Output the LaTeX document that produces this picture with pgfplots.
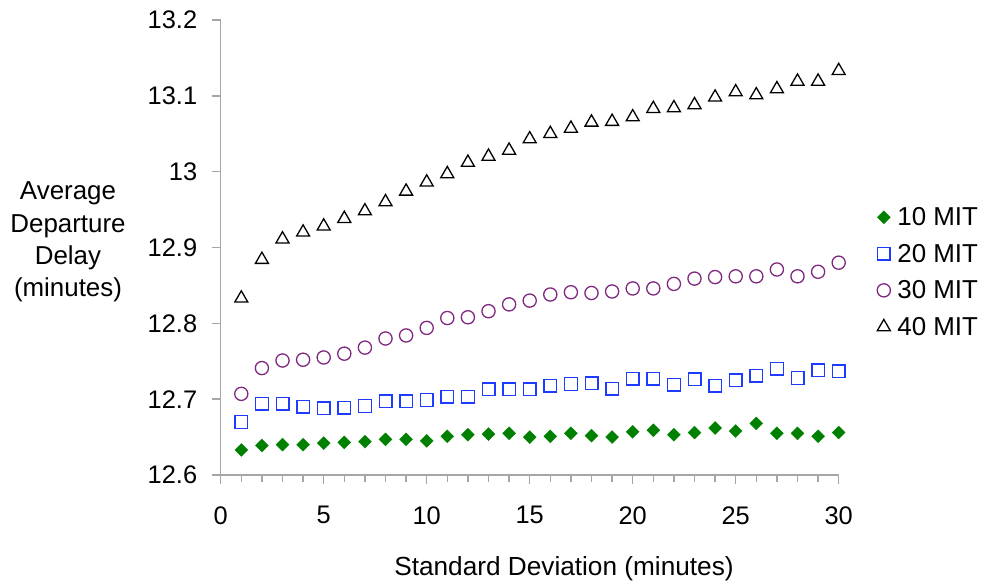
\documentclass[border=0pt]{standalone}
\usepackage{pgfplots}
\pgfplotsset{compat=1.18}
\usepackage{pgfplotstable}
\usepackage{fontspec}
\setmainfont{Liberation Sans}
\definecolor{mgreen}{RGB}{0,128,0}
\definecolor{mblue}{RGB}{30,60,255}
\definecolor{mpurple}{RGB}{128,40,128}
\definecolor{axgray}{RGB}{166,166,166}

\pgfplotstableread{
x y
1 12.633
2 12.639
3 12.640
4 12.640
5 12.642
6 12.643
7 12.644
8 12.647
9 12.647
10 12.645
11 12.651
12 12.653
13 12.654
14 12.655
15 12.650
16 12.651
17 12.655
18 12.652
19 12.650
20 12.657
21 12.659
22 12.653
23 12.656
24 12.662
25 12.658
26 12.668
27 12.655
28 12.655
29 12.651
30 12.656
}\tenmit
\pgfplotstableread{
x y
1 12.670
2 12.694
3 12.694
4 12.690
5 12.688
6 12.689
7 12.691
8 12.697
9 12.697
10 12.699
11 12.703
12 12.703
13 12.713
14 12.713
15 12.713
16 12.718
17 12.720
18 12.721
19 12.714
20 12.727
21 12.727
22 12.719
23 12.726
24 12.718
25 12.725
26 12.731
27 12.740
28 12.728
29 12.738
30 12.737
}\twentymit
\pgfplotstableread{
x y
1 12.707
2 12.741
3 12.751
4 12.752
5 12.755
6 12.760
7 12.768
8 12.780
9 12.784
10 12.794
11 12.807
12 12.808
13 12.816
14 12.825
15 12.830
16 12.838
17 12.841
18 12.840
19 12.842
20 12.846
21 12.846
22 12.852
23 12.859
24 12.861
25 12.862
26 12.862
27 12.871
28 12.862
29 12.868
30 12.880
}\thirtymit
\pgfplotstableread{
x y
1 12.833
2 12.884
3 12.911
4 12.920
5 12.928
6 12.938
7 12.948
8 12.960
9 12.974
10 12.986
11 12.997
12 13.012
13 13.020
14 13.028
15 13.043
16 13.050
17 13.057
18 13.065
19 13.066
20 13.072
21 13.083
22 13.084
23 13.088
24 13.098
25 13.105
26 13.101
27 13.109
28 13.119
29 13.119
30 13.133
}\fortymit

\begin{document}
\begin{tikzpicture}
\path[use as bounding box] (0,0) rectangle (982bp,588bp);
\begin{axis}[
  at={(220.7bp,113bp)}, anchor=south west,
  scale only axis, width=618bp, height=455bp,
  xmin=0, xmax=30, ymin=12.6, ymax=13.2,
  axis lines*=left,
  axis line style={draw=axgray, line width=1.4bp},
  xtick={0,5,...,30},
  minor xtick={1,...,29},
  ytick={12.6,12.7,...,13.21},
  yticklabels={12.6,12.7,12.8,12.9,13,13.1,13.2},
  tick align=outside,
  major tick length=9bp, minor tick length=7bp,
  tick style={draw=axgray, line width=1.4bp},
  /pgf/number format/assume math mode=true,
  tick label style={font=\fontsize{25.5}{30}\selectfont, black},
  xticklabel style={yshift=-19bp},
  yticklabel style={xshift=-11bp},
  clip=false,
  legend cell align=left,
  legend style={draw=none, fill=none, at={(rel axis cs:1.062,0.446)}, anchor=west,
    font=\fontsize{26}{30}\selectfont, row sep=13bp, column sep=5bp, inner sep=0pt},
]
\addplot[only marks, mark=square*, mark options={rotate=45, fill=mgreen, draw=mgreen, line width=0.3bp}, mark size=4.6bp] table[x=x,y=y] {\tenmit};
\addlegendentry{10 MIT}
\addplot[only marks, mark=square, mark options={draw=mblue, line width=1.4bp}, mark size=6.3bp] table[x=x,y=y] {\twentymit};
\addlegendentry{20 MIT}
\addplot[only marks, mark=o, mark options={draw=mpurple, line width=1.3bp}, mark size=6.6bp] table[x=x,y=y] {\thirtymit};
\addlegendentry{30 MIT}
\addplot[only marks, mark=triangle, mark options={draw=black, line width=1.3bp}, mark size=7.5bp] table[x=x,y=y] {\fortymit};
\addlegendentry{40 MIT}
\end{axis}
\node[align=center, font=\fontsize{26}{32.3}\selectfont] at (68bp,346bp) {Average\\Departure\\Delay\\(minutes)};
\node[font=\fontsize{26.3}{30}\selectfont] at (564bp,19bp) {Standard Deviation (minutes)};
\end{tikzpicture}
\end{document}
